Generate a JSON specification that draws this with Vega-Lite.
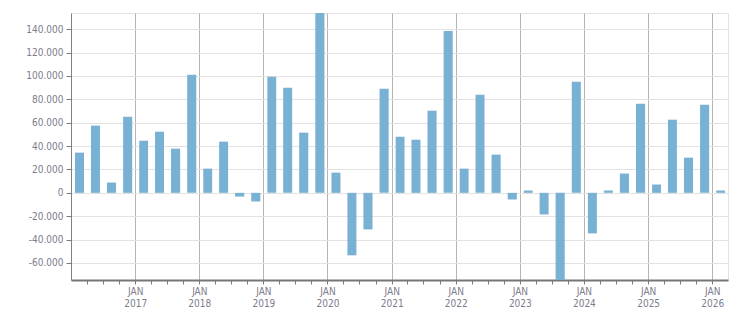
{
  "$schema": "https://vega.github.io/schema/vega-lite/v6.json",
  "width": 657,
  "height": 267,
  "autosize": {"type": "none"},
  "padding": {"left": 71, "top": 13, "right": 22, "bottom": 33},
  "background": "white",
  "config": {
    "locale": {"number": {"decimal": ",", "thousands": ".", "grouping": [3], "currency": ["", ""], "minus": "-"}},
    "view": {"stroke": "#e2e2e2", "strokeWidth": 1},
    "axis": {"labelFont": "DejaVu Sans Condensed, Liberation Sans, sans-serif", "labelFontSize": 10, "labelColor": "#7c7c8c"}
  },
  "data": {
    "values": [
      {"quarter": "2016-01-01", "value": 34400},
      {"quarter": "2016-04-01", "value": 57500},
      {"quarter": "2016-07-01", "value": 8800},
      {"quarter": "2016-10-01", "value": 65100},
      {"quarter": "2017-01-01", "value": 44600},
      {"quarter": "2017-04-01", "value": 52300},
      {"quarter": "2017-07-01", "value": 37800},
      {"quarter": "2017-10-01", "value": 101000},
      {"quarter": "2018-01-01", "value": 20700},
      {"quarter": "2018-04-01", "value": 43800},
      {"quarter": "2018-07-01", "value": -3200},
      {"quarter": "2018-10-01", "value": -7400},
      {"quarter": "2019-01-01", "value": 99300},
      {"quarter": "2019-04-01", "value": 89900},
      {"quarter": "2019-07-01", "value": 51500},
      {"quarter": "2019-10-01", "value": 153900},
      {"quarter": "2020-01-01", "value": 17300},
      {"quarter": "2020-04-01", "value": -53500},
      {"quarter": "2020-07-01", "value": -31300},
      {"quarter": "2020-10-01", "value": 89000},
      {"quarter": "2021-01-01", "value": 48000},
      {"quarter": "2021-04-01", "value": 45500},
      {"quarter": "2021-07-01", "value": 70300},
      {"quarter": "2021-10-01", "value": 138600},
      {"quarter": "2022-01-01", "value": 20700},
      {"quarter": "2022-04-01", "value": 83900},
      {"quarter": "2022-07-01", "value": 32700},
      {"quarter": "2022-10-01", "value": -5700},
      {"quarter": "2023-01-01", "value": 2000},
      {"quarter": "2023-04-01", "value": -18500},
      {"quarter": "2023-07-01", "value": -74600},
      {"quarter": "2023-10-01", "value": 95000},
      {"quarter": "2024-01-01", "value": -34700},
      {"quarter": "2024-04-01", "value": 2000},
      {"quarter": "2024-07-01", "value": 16500},
      {"quarter": "2024-10-01", "value": 76200},
      {"quarter": "2025-01-01", "value": 7100},
      {"quarter": "2025-04-01", "value": 62600},
      {"quarter": "2025-07-01", "value": 30100},
      {"quarter": "2025-10-01", "value": 75400},
      {"quarter": "2026-01-01", "value": 2000}
    ]
  },
  "mark": {"type": "bar", "color": "#78b1d3", "width": {"band": 0.625}},
  "encoding": {
    "x": {
      "field": "quarter",
      "type": "temporal",
      "timeUnit": "utcyearquarter",
      "scale": {"domain": [{"year": 2016, "month": 1, "date": 1, "utc": true}, {"year": 2026, "month": 4, "date": 1, "utc": true}]},
      "axis": {
        "title": null,
        "values": [
          {"year": 2016, "month": 4, "date": 1, "utc": true}, {"year": 2016, "month": 7, "date": 1, "utc": true}, {"year": 2016, "month": 10, "date": 1, "utc": true},
          {"year": 2017, "month": 1, "date": 1, "utc": true}, {"year": 2017, "month": 4, "date": 1, "utc": true}, {"year": 2017, "month": 7, "date": 1, "utc": true}, {"year": 2017, "month": 10, "date": 1, "utc": true},
          {"year": 2018, "month": 1, "date": 1, "utc": true}, {"year": 2018, "month": 4, "date": 1, "utc": true}, {"year": 2018, "month": 7, "date": 1, "utc": true}, {"year": 2018, "month": 10, "date": 1, "utc": true},
          {"year": 2019, "month": 1, "date": 1, "utc": true}, {"year": 2019, "month": 4, "date": 1, "utc": true}, {"year": 2019, "month": 7, "date": 1, "utc": true}, {"year": 2019, "month": 10, "date": 1, "utc": true},
          {"year": 2020, "month": 1, "date": 1, "utc": true}, {"year": 2020, "month": 4, "date": 1, "utc": true}, {"year": 2020, "month": 7, "date": 1, "utc": true}, {"year": 2020, "month": 10, "date": 1, "utc": true},
          {"year": 2021, "month": 1, "date": 1, "utc": true}, {"year": 2021, "month": 4, "date": 1, "utc": true}, {"year": 2021, "month": 7, "date": 1, "utc": true}, {"year": 2021, "month": 10, "date": 1, "utc": true},
          {"year": 2022, "month": 1, "date": 1, "utc": true}, {"year": 2022, "month": 4, "date": 1, "utc": true}, {"year": 2022, "month": 7, "date": 1, "utc": true}, {"year": 2022, "month": 10, "date": 1, "utc": true},
          {"year": 2023, "month": 1, "date": 1, "utc": true}, {"year": 2023, "month": 4, "date": 1, "utc": true}, {"year": 2023, "month": 7, "date": 1, "utc": true}, {"year": 2023, "month": 10, "date": 1, "utc": true},
          {"year": 2024, "month": 1, "date": 1, "utc": true}, {"year": 2024, "month": 4, "date": 1, "utc": true}, {"year": 2024, "month": 7, "date": 1, "utc": true}, {"year": 2024, "month": 10, "date": 1, "utc": true},
          {"year": 2025, "month": 1, "date": 1, "utc": true}, {"year": 2025, "month": 4, "date": 1, "utc": true}, {"year": 2025, "month": 7, "date": 1, "utc": true}, {"year": 2025, "month": 10, "date": 1, "utc": true},
          {"year": 2026, "month": 1, "date": 1, "utc": true}
        ],
        "labelExpr": "utcmonth(datum.value) === 0 ? ['JAN', utcFormat(datum.value, '%Y')] : ''",
        "labelOverlap": false,
        "labelFlush": false,
        "labelBound": false,
        "labelAlign": "center",
        "labelBaseline": "top",
        "labelLineHeight": 12,
        "labelPadding": 2,
        "tickSize": 4,
        "tickColor": "#7a7a7a",
        "domainColor": "#777777",
        "domainWidth": 2,
        "grid": true,
        "gridColor": "#b4b4b4",
        "gridWidth": 1,
        "gridOpacity": {"condition": {"test": "utcmonth(datum.value) === 0", "value": 1}, "value": 0}
      }
    },
    "y": {
      "field": "value",
      "type": "quantitative",
      "scale": {"domain": [-74600, 153900], "nice": false, "zero": false},
      "axis": {
        "title": null,
        "values": [-60000, -40000, -20000, 0, 20000, 40000, 60000, 80000, 100000, 120000, 140000],
        "format": ",d",
        "tickSize": 5,
        "tickColor": "#7a7a7a",
        "labelPadding": 3,
        "domainColor": "#808080",
        "domainWidth": 1,
        "gridColor": "#e2e2e2",
        "gridWidth": 1
      }
    }
  }
}
